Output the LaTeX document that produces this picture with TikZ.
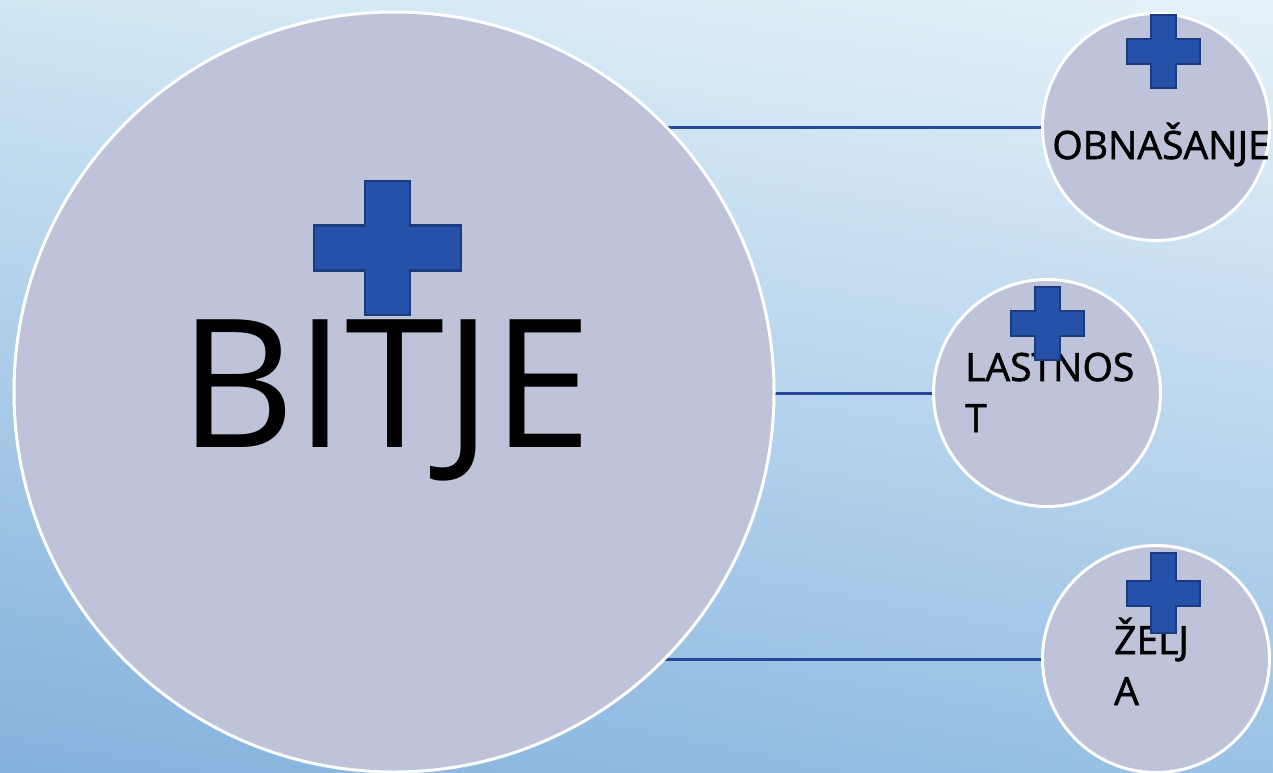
\documentclass[tikz,border=0pt]{standalone}
\usepackage{fontspec}
\setmainfont{Open Sans}
\newfontfamily\polkrepko{Open Sans}[FakeBold=1.5]
\usetikzlibrary{shadings}

\definecolor{krog}{HTML}{BFC3D9}
\definecolor{crta}{HTML}{27479A}
\definecolor{krizpolni}{HTML}{2551A8}
\definecolor{krizrob}{HTML}{1C3A80}

\pgfdeclarelayer{ozadje}
\pgfdeclarelayer{crte}
\pgfsetlayers{ozadje,crte,main}

% kriz: center x, center y, sirina, visina, debelina kraka, debelina roba
\newcommand{\kriz}[6]{%
\begin{scope}[shift={(#1,#2)}]
\draw[krizrob, fill=krizpolni, line width=#6]
	({-#5/2},{-#4/2}) -- ({#5/2},{-#4/2}) -- ({#5/2},{-#5/2}) --
	({#3/2},{-#5/2}) -- ({#3/2},{#5/2}) -- ({#5/2},{#5/2}) --
	({#5/2},{#4/2}) -- ({-#5/2},{#4/2}) -- ({-#5/2},{#5/2}) --
	({-#3/2},{#5/2}) -- ({-#3/2},{-#5/2}) -- ({-#5/2},{-#5/2}) -- cycle;
\end{scope}}

\begin{document}
\begin{tikzpicture}[x=1pt, y=-1pt,
	krogec/.style={circle, draw=white, line width=3pt, fill=krog, inner sep=0pt},
	napis/.style={inner sep=0pt, font=\polkrepko\fontsize{39}{51}\selectfont},
	povezava/.style={crta, line width=3pt}]
\useasboundingbox (0,0) rectangle (1273,772);
\begin{pgfonlayer}{ozadje}
\shade[upper left={rgb,255:red,207;green,230;blue,243},
	upper right={rgb,255:red,230;green,242;blue,249},
	lower left={rgb,255:red,132;green,177;blue,221},
	lower right={rgb,255:red,154;green,194;blue,230}]
	(0,0) rectangle (1273,772);
\end{pgfonlayer}

\node[krogec, minimum size=760pt] (bitje) at (394,392) {};
\node[krogec, minimum size=227pt] (obn) at (1156,127) {};
\node[krogec, minimum size=227pt] (last) at (1047,393) {};
\node[krogec, minimum size=227pt] (zelja) at (1156,659) {};

\begin{pgfonlayer}{crte}
\draw[povezava] (obn.west) -- (obn.west -| bitje.center);
\draw[povezava] (last.west) -- (last.west -| bitje.center);
\draw[povezava] (zelja.west) -- (zelja.west -| bitje.center);
\end{pgfonlayer}

\node[anchor=base, inner sep=0pt, font=\fontsize{179}{179}\selectfont] (bitjenapis) at (386,447) {BITJE};
\node[anchor=base, napis] (obnnapis) at (1161,159) {OBNAŠANJE};
\node[anchor=base west, napis, align=left] (lastnapis) at (965,432) {LASTNOS\\T};
\node[anchor=base west, napis, align=left] (zeljanapis) at (1114,705) {ŽELJ\\A};

\kriz{387.5}{248}{147}{134}{45}{2.5pt}
\kriz{1163.5}{51}{73}{73}{25}{2pt}
\kriz{1047.5}{323.5}{73}{73}{25}{2pt}
\kriz{1163.5}{593}{73}{80}{25}{2pt}
\end{tikzpicture}
\end{document}
